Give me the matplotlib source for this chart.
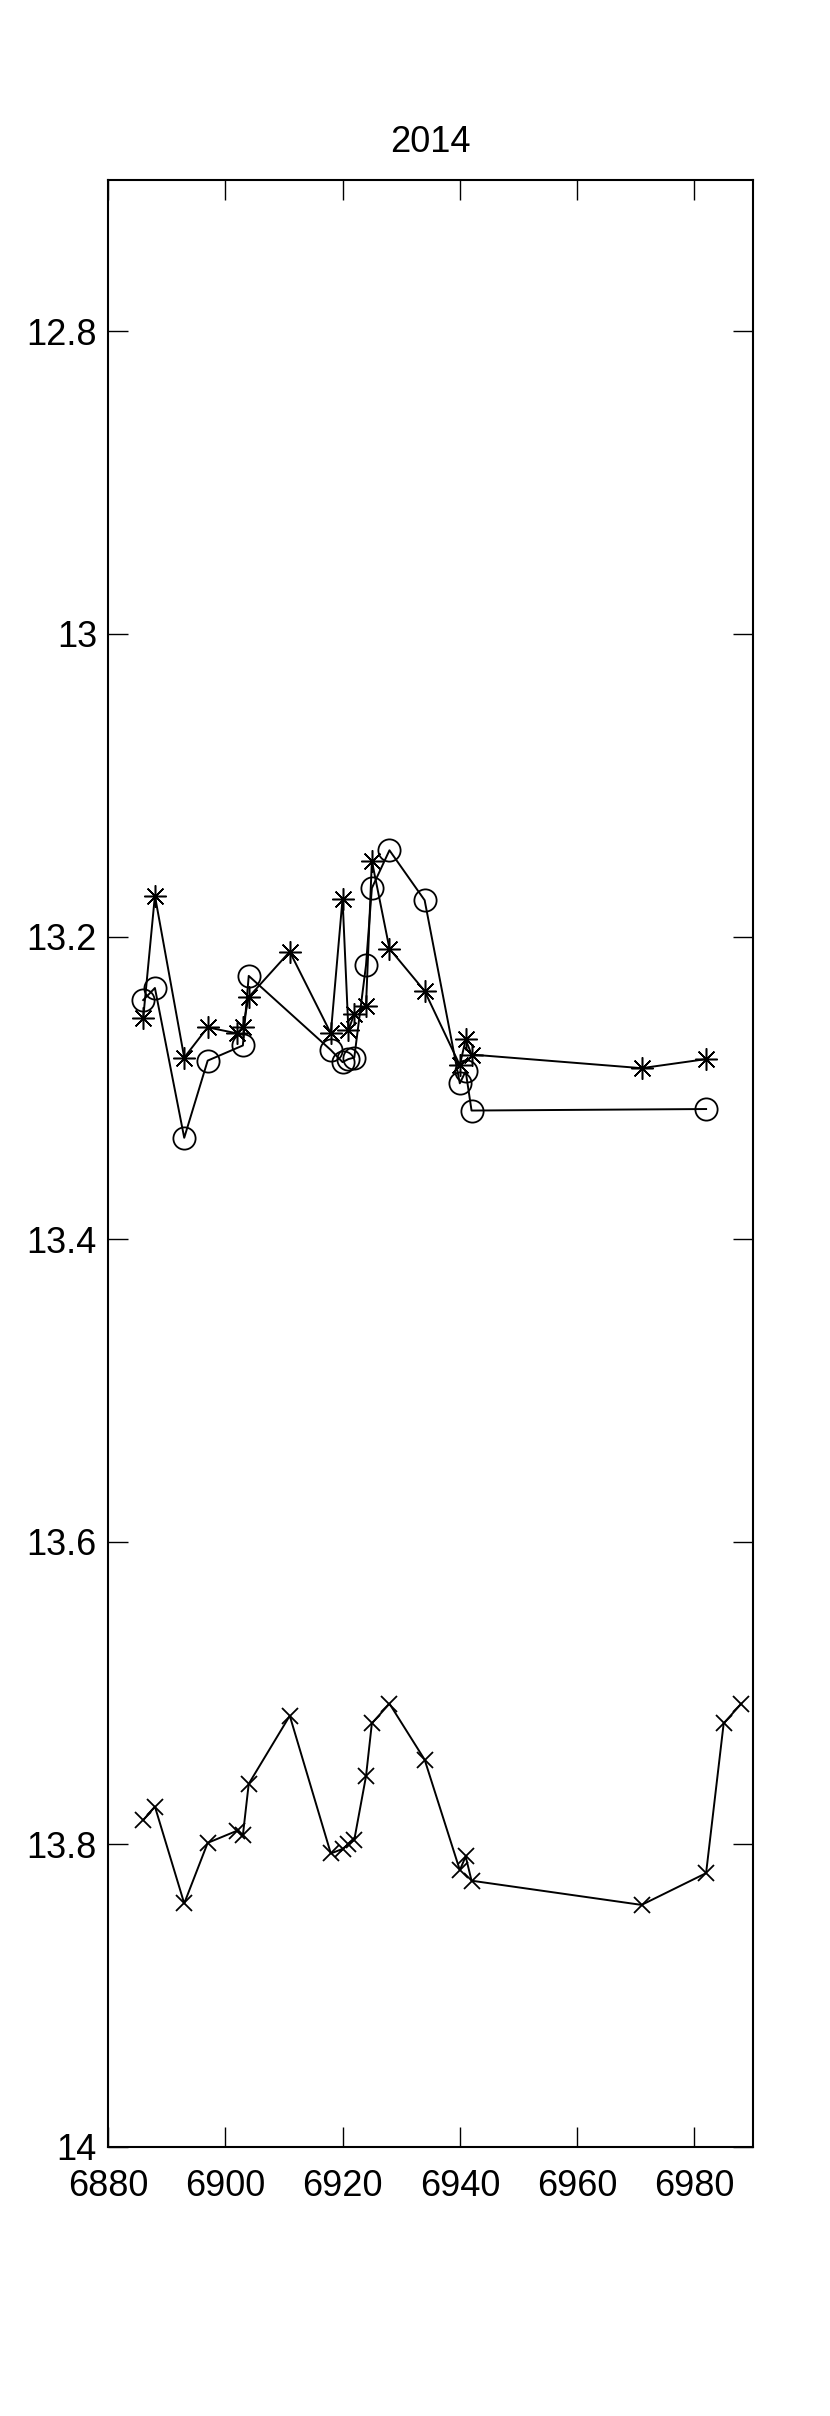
import matplotlib
matplotlib.use("Agg")
import matplotlib.pyplot as plt
from matplotlib.ticker import FuncFormatter

plt.rcParams['font.family'] = ['Liberation Sans', 'DejaVu Sans']

title = "2014"

# asterisk series
x_star = [6886, 6888, 6893, 6897, 6902, 6903, 6904, 6911, 6918, 6920, 6921,
          6922, 6924, 6925, 6928, 6934, 6940, 6941, 6942, 6971, 6982]
y_star = [13.254, 13.173, 13.280, 13.260, 13.264, 13.260, 13.240, 13.210, 13.264,
          13.175, 13.262, 13.251, 13.246, 13.150, 13.208, 13.236, 13.285, 13.268,
          13.278, 13.287, 13.281]

# circle series
x_circ = [6886, 6888, 6893, 6897, 6903, 6904, 6918, 6920, 6921, 6922, 6924,
          6925, 6928, 6934, 6940, 6941, 6942, 6982]
y_circ = [13.242, 13.234, 13.333, 13.282, 13.272, 13.226, 13.275, 13.283, 13.281,
          13.280, 13.219, 13.168, 13.143, 13.176, 13.297, 13.289, 13.315, 13.314]

# cross series
x_cross = [6886, 6888, 6893, 6897, 6902, 6903, 6904, 6911, 6918, 6920, 6921,
           6922, 6924, 6925, 6928, 6934, 6940, 6941, 6942, 6971, 6982, 6985, 6988]
y_cross = [13.784, 13.775, 13.839, 13.799, 13.791, 13.794, 13.760, 13.715, 13.806,
           13.803, 13.800, 13.797, 13.755, 13.720, 13.707, 13.744, 13.817, 13.808,
           13.824, 13.840, 13.819, 13.720, 13.707]

x_ticks = [6880, 6900, 6920, 6940, 6960, 6980]
y_ticks = [12.8, 13.0, 13.2, 13.4, 13.6, 13.8, 14.0]

fig = plt.figure(figsize=(8.3, 24.16), dpi=100)
ax = fig.add_axes([108/830, 1 - 2147/2416, (753-108)/830, (2147-180)/2416])

lw = 1.4
ax.plot(x_star, y_star, color='black', lw=lw, marker=(8, 2, 0), ms=16, mew=1.1)
ax.plot(x_circ, y_circ, color='black', lw=lw, marker='o', ms=16, mfc='none', mew=1.3)
ax.plot(x_cross, y_cross, color='black', lw=lw, marker='x', ms=11, mew=1.3)

ax.set_xlim(6880, 6990)
ax.set_ylim(14.0, 12.7)
ax.set_xticks(x_ticks)
ax.set_yticks(y_ticks)
ax.yaxis.set_major_formatter(FuncFormatter(lambda v, p: ('%g' % round(v, 4))))
ax.tick_params(direction='in', length=14.4, width=1, top=True, right=True,
               labelsize=26)
ax.tick_params(axis='x', pad=16)
ax.tick_params(axis='y', pad=8)
for s in ax.spines.values():
    s.set_linewidth(1.5)
ax.set_title(title, fontsize=26, pad=20)

fig.savefig("out.png", dpi=100)
